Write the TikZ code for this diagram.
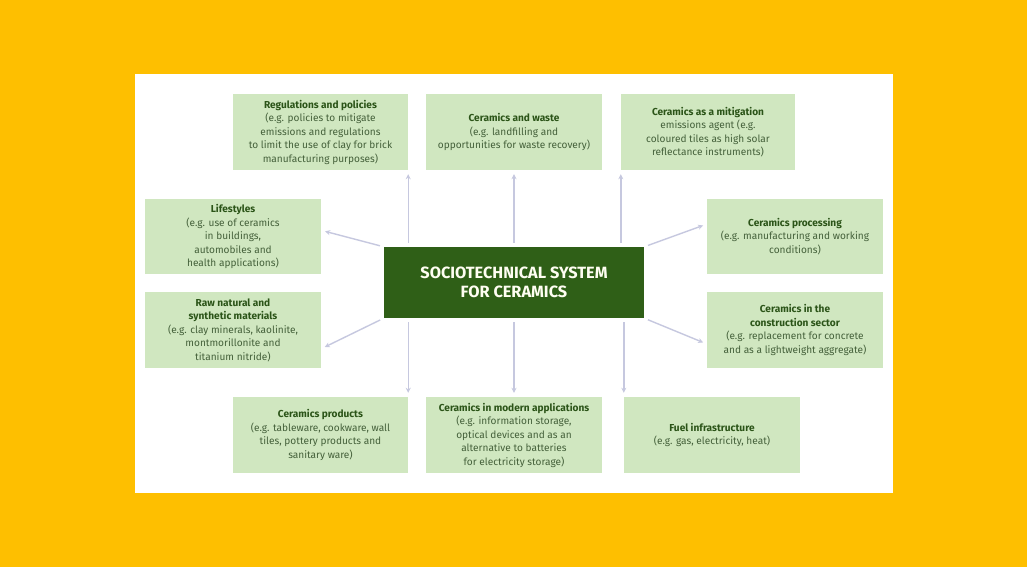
\documentclass[tikz,border=0pt]{standalone}
\usepackage{fontspec}
\setmainfont{Fira Sans}
\usepackage{tikz}
\usetikzlibrary{arrows.meta}

\definecolor{backyellow}{HTML}{FEBF00}
\definecolor{boxgreen}{HTML}{D0E7C0}
\definecolor{hubgreen}{HTML}{2F5F17}
\definecolor{titlegreen}{HTML}{2B5418}
\definecolor{bodygreen}{HTML}{44603A}
\definecolor{arrowblue}{HTML}{C6C8DF}

\newcommand{\boxtitle}[1]{{\bfseries\color{titlegreen}#1}}

\begin{document}
\begin{tikzpicture}[x=1pt,y=-1pt,
		topic/.style={fill=boxgreen,minimum width=176pt,minimum height=76pt,align=center,inner sep=2pt,
			font=\fontsize{10.1}{13.5}\selectfont,text=bodygreen},
		hubbox/.style={fill=hubgreen,minimum width=260pt,minimum height=71pt,align=center,
			font=\fontsize{16.3}{18.5}\selectfont\bfseries,text=white!95!yellow},
		arr/.style={draw=arrowblue,line width=1.4pt,-{Stealth[length=5pt,width=5pt]},shorten <=4pt,shorten >=4pt}]
				\fill[backyellow] (0,0) rectangle (1027,567);
				\fill[white] (135,74) rectangle (893,493);
				
				\node[hubbox] (hub) at (514,282.5) {SOCIOTECHNICAL SYSTEM\\FOR CERAMICS};
				
				\node[topic,minimum width=175pt] (reg) at (320.5,132) {\boxtitle{Regulations and policies}\\(e.g. policies to mitigate\\emissions and regulations\\to limit the use of clay for brick\\manufacturing purposes)};
				\node[topic] (waste) at (514,132) {\boxtitle{Ceramics and waste}\\(e.g. landfilling and\\opportunities for waste recovery)};
				\node[topic,minimum width=174pt] (mit) at (708,132) {\boxtitle{Ceramics as a mitigation}\\emissions agent (e.g.\\coloured tiles as high solar\\reflectance instruments)};
				
				\node[topic,minimum height=75pt] (life) at (233,236.5) {\boxtitle{Lifestyles}\\(e.g. use of ceramics\\in buildings,\\automobiles and\\health applications)};
				\node[topic,minimum height=75pt] (proc) at (795,236.5) {\boxtitle{Ceramics processing}\\(e.g. manufacturing and working\\conditions)};
				
				\node[topic] (raw) at (233,330) {\boxtitle{Raw natural and}\\\boxtitle{synthetic materials}\\(e.g. clay minerals, kaolinite,\\montmorillonite and\\titanium nitride)};
				\node[topic] (constr) at (795,330) {\boxtitle{Ceramics in the}\\\boxtitle{construction sector}\\(e.g. replacement for concrete\\and as a lightweight aggregate)};
				
				\node[topic,minimum width=175pt] (prod) at (320.5,435) {\boxtitle{Ceramics products}\\(e.g. tableware, cookware, wall\\tiles, pottery products and\\sanitary ware)};
				\node[topic] (modern) at (514,435) {\boxtitle{Ceramics in modern applications}\\(e.g. information storage,\\optical devices and as an\\alternative to batteries\\for electricity storage)};
				\node[topic] (fuel) at (712,435) {\boxtitle{Fuel infrastructure}\\(e.g. gas, electricity, heat)};
				
				% arrows out of the hub
				\draw[arr] (hub.north -| reg.south east) -- (reg.south east);
				\draw[arr] (hub.north) -- (waste.south);
				\draw[arr] (hub.north -| mit.south west) -- (mit.south west);
				\draw[arr] (hub.south -| prod.north east) -- (prod.north east);
				\draw[arr] (hub.south) -- (modern.north);
				\draw[arr] (hub.south -| fuel.north west) -- (fuel.north west);
				\draw[arr] (hub.north west) -- (life.4);
				\draw[arr] (hub.north east) -- (proc.172);
				\draw[arr] (hub.south west) -- (raw.-12);
				\draw[arr] (hub.south east) -- (constr.189);
\end{tikzpicture}
\end{document}
